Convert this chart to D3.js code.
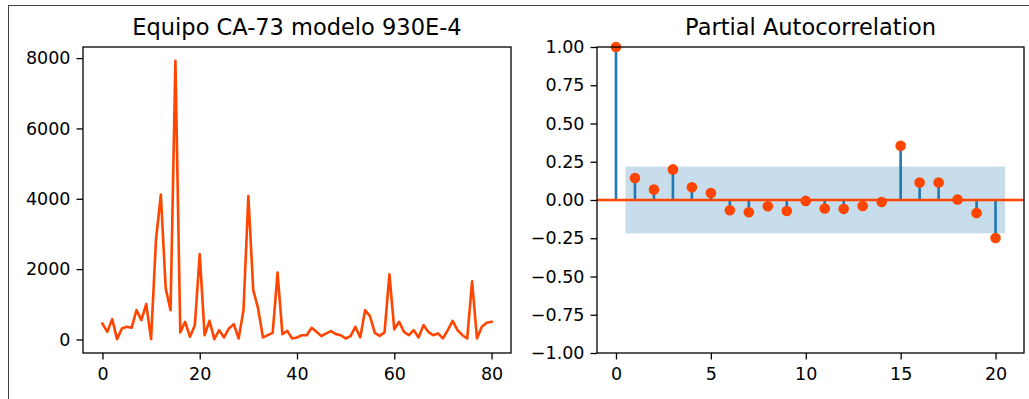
<!DOCTYPE html>
<html>
<head>
<meta charset="utf-8">
<script src="https://cdn.jsdelivr.net/npm/d3@7"></script>
<style>
  html, body { margin: 0; padding: 0; background: #fff; }
  svg { display: block; }
  text { font-family: "DejaVu Sans", sans-serif; fill: #000; }
</style>
</head>
<body>
<svg id="chart" width="1029" height="399"></svg>
<script>
// ---- Data ----
const seriesTitle = "Equipo CA-73 modelo 930E-4";
const pacfTitle = "Partial Autocorrelation";
const seriesValues = [450, 216, 578, 10, 313, 359, 330, 834, 550, 1005, 10,
  2827, 4120, 1452, 834, 7920, 200, 501, 75, 407, 2430,
  120, 530, 10, 265, 57, 313, 436, 28, 834, 4080,
  1403, 882, 57, 122, 189, 1900, 150, 245, 28, 57,
  120, 120, 330, 216, 94, 171, 236, 151, 120, 28,
  94, 359, 57, 834, 663, 189, 100, 200, 1850, 285,
  501, 216, 120, 265, 57, 407, 216, 120, 171, 28,
  265, 530, 265, 120, 28, 1650, 28, 359, 473, 501];
const pacfLags = d3.range(0, 21);
const pacfValues = [1.0, 0.144, 0.068, 0.200, 0.083, 0.046, -0.067, -0.080, -0.041, -0.072,
  -0.006, -0.056, -0.058, -0.039, -0.013, 0.355, 0.114, 0.114, 0.003, -0.085, -0.248];
const confBand = 0.2178;
const seriesXTicks = [0, 20, 40, 60, 80];
const seriesYTicks = [0, 2000, 4000, 6000, 8000];
const pacfXTicks = [0, 5, 10, 15, 20];
const pacfYTicks = [-1, -0.75, -0.5, -0.25, 0, 0.25, 0.5, 0.75, 1];

// ---- Layout ----
const svg = d3.select("#chart");
const ORANGE = "#ff4500", BLUE = "#1f77b4";
const FS = 17.5, TFS = 22.5;
const plotTop = 47, plotBottom = 353;
const L = { x0: 83, x1: 511 };
const R = { x0: 597, x1: 1024 };

svg.append("rect").attr("width", 1029).attr("height", 399).attr("fill", "#fff");
// notebook frame
svg.append("line").attr("x1", 8).attr("x2", 1029).attr("y1", 5.5).attr("y2", 5.5)
  .attr("stroke", "#444").attr("stroke-width", 1);
svg.append("line").attr("x1", 8.5).attr("x2", 8.5).attr("y1", 5).attr("y2", 399)
  .attr("stroke", "#444").attr("stroke-width", 1);

function styleAxis(g) {
  g.select(".domain").remove();
  g.selectAll(".tick line").attr("stroke", "#000").attr("stroke-width", 1.3);
  g.selectAll(".tick text").attr("font-size", FS).attr("font-family", "DejaVu Sans").attr("fill", "#000");
}

// ---- Left: series ----
const n = seriesValues.length;
const xpad = (n - 1) * 0.05;
const xL = d3.scaleLinear().domain([-xpad, n - 1 + xpad]).range([L.x0, L.x1]);
const [mn, mx] = d3.extent(seriesValues);
const ypad = (mx - mn) * 0.05;
const yL = d3.scaleLinear().domain([mn - ypad, mx + ypad]).range([plotBottom, plotTop]);

const gL = svg.append("g");
gL.append("path")
  .datum(seriesValues)
  .attr("fill", "none").attr("stroke", ORANGE).attr("stroke-width", 2.6)
  .attr("stroke-linejoin", "round").attr("stroke-linecap", "square")
  .attr("d", d3.line().x((d, i) => xL(i)).y(d => yL(d)));

gL.append("g").attr("transform", `translate(0,${plotBottom})`)
  .call(d3.axisBottom(xL).tickValues(seriesXTicks).tickFormat(d3.format("d")).tickSizeInner(6.5).tickSizeOuter(0).tickPadding(8))
  .call(styleAxis);
gL.append("g").attr("transform", `translate(${L.x0},0)`)
  .call(d3.axisLeft(yL).tickValues(seriesYTicks).tickFormat(d3.format("d")).tickSizeInner(6.5).tickSizeOuter(0).tickPadding(6))
  .call(styleAxis);
gL.append("rect").attr("x", L.x0).attr("y", plotTop).attr("width", L.x1 - L.x0).attr("height", plotBottom - plotTop)
  .attr("fill", "none").attr("stroke", "#000").attr("stroke-width", 1.3);
gL.append("text").attr("x", (L.x0 + L.x1) / 2).attr("y", 35).attr("text-anchor", "middle")
  .attr("font-size", TFS).text(seriesTitle);

// ---- Right: PACF ----
const xR = d3.scaleLinear().domain([-1, 21.5]).range([R.x0, R.x1]);
const yR = d3.scaleLinear().domain([-1, 1]).range([plotBottom, plotTop]);
const gR = svg.append("g");

gR.selectAll("line.stem").data(pacfValues).join("line").attr("class", "stem")
  .attr("x1", (d, i) => xR(pacfLags[i])).attr("x2", (d, i) => xR(pacfLags[i]))
  .attr("y1", yR(0)).attr("y2", d => yR(d))
  .attr("stroke", BLUE).attr("stroke-width", 2.6);

gR.append("rect")
  .attr("x", xR(pacfLags[1] - 0.5)).attr("width", xR(pacfLags[pacfLags.length - 1] + 0.5) - xR(pacfLags[1] - 0.5))
  .attr("y", yR(confBand)).attr("height", yR(-confBand) - yR(confBand))
  .attr("fill", BLUE).attr("fill-opacity", 0.25);

gR.append("line").attr("x1", R.x0).attr("x2", R.x1).attr("y1", yR(0)).attr("y2", yR(0))
  .attr("stroke", ORANGE).attr("stroke-width", 2.6);

gR.selectAll("circle.pt").data(pacfValues).join("circle").attr("class", "pt")
  .attr("cx", (d, i) => xR(pacfLags[i])).attr("cy", d => yR(d)).attr("r", 5.3)
  .attr("fill", ORANGE);

gR.append("g").attr("transform", `translate(0,${plotBottom})`)
  .call(d3.axisBottom(xR).tickValues(pacfXTicks).tickFormat(d3.format("d")).tickSizeInner(6.5).tickSizeOuter(0).tickPadding(8))
  .call(styleAxis);
gR.append("g").attr("transform", `translate(${R.x0},0)`)
  .call(d3.axisLeft(yR).tickValues(pacfYTicks).tickFormat(d3.format(".2f")).tickSizeInner(6.5).tickSizeOuter(0).tickPadding(6))
  .call(styleAxis);
gR.append("rect").attr("x", R.x0).attr("y", plotTop).attr("width", R.x1 - R.x0).attr("height", plotBottom - plotTop)
  .attr("fill", "none").attr("stroke", "#000").attr("stroke-width", 1.3);
gR.append("text").attr("x", (R.x0 + R.x1) / 2).attr("y", 35).attr("text-anchor", "middle")
  .attr("font-size", TFS).text(pacfTitle);
</script>
</body>
</html>
